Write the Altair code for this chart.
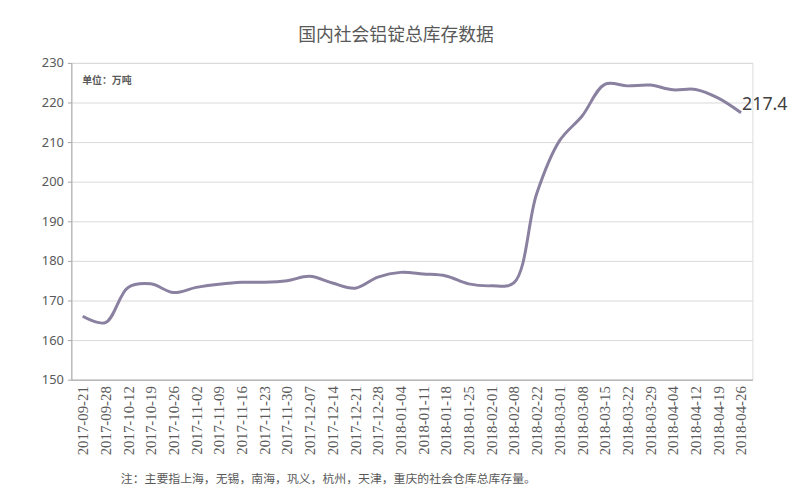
import altair as alt
import pandas as pd

dates = [
    "2017-09-21", "2017-09-28", "2017-10-12", "2017-10-19", "2017-10-26",
    "2017-11-02", "2017-11-09", "2017-11-16", "2017-11-23", "2017-11-30",
    "2017-12-07", "2017-12-14", "2017-12-21", "2017-12-28", "2018-01-04",
    "2018-01-11", "2018-01-18", "2018-01-25", "2018-02-01", "2018-02-08",
    "2018-02-22", "2018-03-01", "2018-03-08", "2018-03-15", "2018-03-22",
    "2018-03-29", "2018-04-04", "2018-04-12", "2018-04-19", "2018-04-26",
]
values = [
    166.0, 164.4, 173.3, 174.2, 172.0,
    173.3, 174.1, 174.6, 174.6, 175.0,
    176.1, 174.4, 173.1, 175.9, 177.1,
    176.7, 176.2, 174.2, 173.7, 174.5,
    197.0, 210.3, 216.6, 224.6, 224.2,
    224.4, 223.2, 223.3, 221.1, 217.4,
]
y_ticks = [150, 160, 170, 180, 190, 200, 210, 220, 230]
title_text = ["国内社会铝锭总库存数据"]
unit_text = ["单位：万吨"]
note_text = ["注：主要指上海，无锡，南海，巩义，杭州，天津，重庆的社会仓库总库存量。"]
last_label_date = dates[-1]

df = pd.DataFrame({"date": dates, "value": values})

GRAY = "#595959"
x_enc = alt.X(
    "date:N", sort=dates,
    scale=alt.Scale(type="point", padding=0.5),
    axis=alt.Axis(
        title=None, labelAngle=-90, labelFont="Liberation Serif", labelFontSize=15,
        labelColor=GRAY, ticks=False, domainColor="#A6A6A6", labelPadding=6, grid=False,
    ),
)
y_enc = alt.Y(
    "value:Q",
    scale=alt.Scale(domain=[150, 230], nice=False, zero=False),
    axis=alt.Axis(
        values=y_ticks, title=None, labelFont="Noto Sans", labelFontSize=13,
        labelColor=GRAY, tickColor="#A6A6A6", tickSize=4, domainColor="#A6A6A6",
        gridColor="#D9D9D9", labelPadding=4,
    ),
)

line = alt.Chart(df).mark_line(
    interpolate="catmull-rom", color="#8A80A0", strokeWidth=3
).encode(x=x_enc, y=y_enc)

last = alt.Chart(df).transform_filter(
    alt.datum.date == last_label_date
).mark_text(
    align="left", baseline="bottom", dx=1, dy=1, fontSize=18, color="#404040", font="Noto Sans"
).encode(x=x_enc, y=y_enc, text=alt.Text("value:Q", format=".1f"))

title = alt.Chart(pd.DataFrame({"t": title_text})).mark_text(
    align="center", baseline="middle", fontSize=18,
    font="Noto Sans CJK SC", color=GRAY
).encode(x=alt.value(328), y=alt.value(-27), text="t:N")

unit = alt.Chart(pd.DataFrame({"t": unit_text})).mark_text(
    align="left", baseline="middle", fontSize=10, fontWeight="bold",
    font="Noto Sans CJK SC", color=GRAY
).encode(x=alt.value(11), y=alt.value(18), text="t:N")

note = alt.Chart(pd.DataFrame({"t": note_text})).mark_text(
    align="left", baseline="middle", fontSize=12,
    font="Noto Sans CJK SC", color=GRAY
).encode(x=alt.value(50), y=alt.value(420), text="t:N")

chart = alt.layer(line, last, title, unit, note).properties(
    width=688, height=320,
    autosize=alt.AutoSizeParams(type="none"),
    padding={"left": 64, "top": 53, "right": 40, "bottom": 110},
).configure_view(stroke=None).configure(background="white")

chart.save("out.html", embed_options={"renderer": "svg", "actions": False})
